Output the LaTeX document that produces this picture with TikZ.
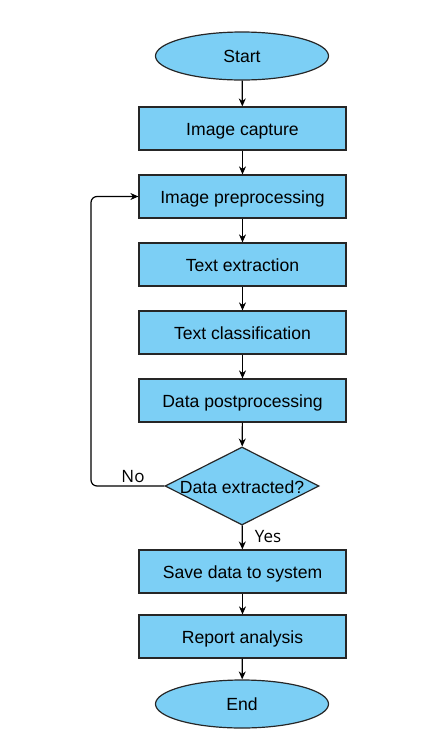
\documentclass[tikz,border=0pt]{standalone}
\usepackage{fontspec}
\setmainfont{Liberation Sans}
\newfontfamily\labfont{Open Sans}
\usetikzlibrary{shapes.geometric,arrows.meta}
\definecolor{boxfill}{RGB}{124,207,245}
\begin{document}
\begin{tikzpicture}[x=1pt,y=-1pt,
  every node/.style={font=\fontsize{17.6}{20}\selectfont},
  proc/.style={draw=black!85,line width=1.2pt,fill=boxfill,minimum width=207pt,minimum height=43pt,inner sep=0pt,text height=13pt,text depth=0pt},
  term/.style={draw=black!85,line width=1.2pt,fill=boxfill,ellipse,minimum width=173pt,minimum height=48pt,inner sep=0pt,text height=13pt,text depth=0pt},
  dec/.style={draw=black!85,line width=1.2pt,fill=boxfill,diamond,minimum width=154pt,minimum height=78pt,inner sep=0pt,aspect=2},
  conn/.style={draw=black,line width=1.2pt,-{Stealth[length=8pt,width=7pt]}},
  lab/.style={font=\labfont\fontsize{17}{20}\selectfont}]
\useasboundingbox (0,0) rectangle (439,740);
\node[term] (start) at (242,56) {Start};
\node[proc] (cap) at (242.5,128.5) {Image capture};
\node[proc] (pre) at (242.5,196.5) {Image preprocessing};
\node[proc] (ext) at (242.5,264.5) {Text extraction};
\node[proc] (cls) at (242.5,332.5) {Text classification};
\node[proc] (post) at (242.5,400.5) {Data postprocessing};
\node[dec] (q) at (242,486) {};
\node (qt) at (242,487) {Data extracted?};
\node[proc] (save) at (242.5,571.5) {Save data to system};
\node[proc] (rep) at (242.5,636.5) {Report analysis};
\node[term] (end) at (242,704) {End};
\coordinate (c1) at (91,486);
\coordinate (c2) at (91,196.5);
\draw[conn] (start) -- (cap);
\draw[conn] (cap) -- (pre);
\draw[conn] (pre) -- (ext);
\draw[conn] (ext) -- (cls);
\draw[conn] (cls) -- (post);
\draw[conn] (post) -- (q);
\draw[conn] (q) -- (save);
\draw[conn] (save) -- (rep);
\draw[conn] (rep) -- (end);
\draw[conn,rounded corners=6pt] (q.west) -- (c1) -- (c2) -- (pre.west);
\node[lab] (no) at (133,477) {No};
\node[lab] (yes) at (268,537) {Yes};
\end{tikzpicture}
\end{document}
